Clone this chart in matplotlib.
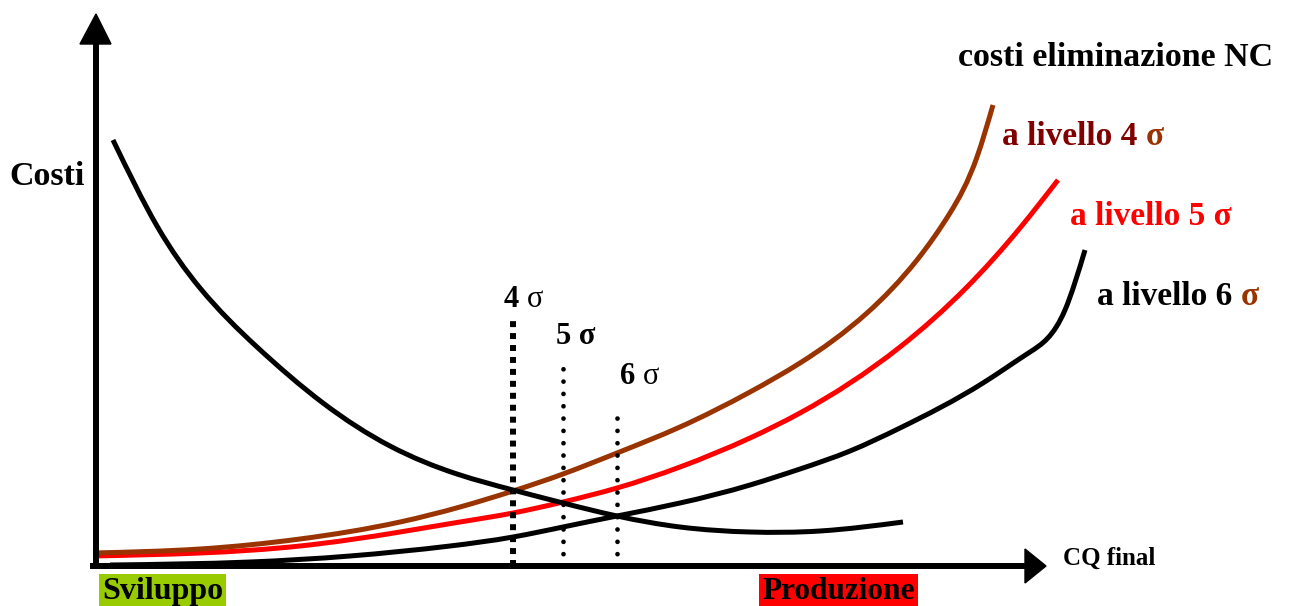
import matplotlib
matplotlib.use("Agg")
import numpy as np
import matplotlib.pyplot as plt
from matplotlib.patches import Polygon, PathPatch
from matplotlib.path import Path

W, H = 1289, 606
# Data, in pixel-like units (x right, row = pixel row from top)
dec_x = [113, 157, 200, 257, 323, 390, 457, 513, 563, 617, 680, 750, 820, 903]
dec_row = [140, 226, 288, 347, 403, 446, 474, 490, 503, 516, 527, 532, 531, 522]

s4_x = [93, 200, 300, 400, 460, 513, 563, 617, 680, 750, 800, 867, 917, 950, 977, 993]
s4_row = [553, 549, 539, 522, 507, 491, 474, 453, 427, 392, 363, 313, 260, 213, 157, 105]

s5_x = [93, 200, 300, 400, 460, 513, 563, 617, 680, 750, 800, 900, 967, 1020, 1058]
s5_row = [556, 553, 546, 532, 522, 513, 502, 488, 467, 438, 413, 347, 287, 228, 180]

s6_x = [110, 250, 350, 450, 513, 563, 617, 680, 750, 800, 850, 900, 983, 1030, 1065, 1085]
s6_row = [565, 562, 556, 546, 537, 527, 516, 503, 485, 469, 451, 428, 383, 352, 310, 250]

sigma_x = [513, 563, 617]
sigma_top_row = [318, 367, 415]

BROWN = "#993300"
RED = "#ff0000"
DARKRED = "#800000"

fig = plt.figure(figsize=(W / 100, H / 100), dpi=100)
ax = fig.add_axes([0, 0, 1, 1])
ax.set_xlim(0, W)
ax.set_ylim(0, H)
ax.axis("off")

def Y(rows):
    return [H - r for r in rows]

SERIF = ["Liberation Serif", "DejaVu Serif"]

def smooth_curve(xs, rows, color, lw):
    """Smooth C2 Bezier path through the read points (natural cubic spline slopes)."""
    xs = np.asarray(xs, float)
    ys = np.asarray(Y(rows), float)
    n = len(xs)
    h = np.diff(xs)
    s = np.diff(ys) / h
    A = np.zeros((n, n))
    b = np.zeros(n)
    A[0, 0], A[0, 1], b[0] = 2, 1, 3 * s[0]
    A[-1, -2], A[-1, -1], b[-1] = 1, 2, 3 * s[-1]
    for i in range(1, n - 1):
        A[i, i - 1] = h[i]
        A[i, i] = 2 * (h[i - 1] + h[i])
        A[i, i + 1] = h[i - 1]
        b[i] = 3 * (h[i] * s[i - 1] + h[i - 1] * s[i])
    m = np.linalg.solve(A, b)
    verts = [(xs[0], ys[0])]
    codes = [Path.MOVETO]
    for i in range(n - 1):
        d = h[i]
        verts += [(xs[i] + d / 3, ys[i] + m[i] * d / 3),
                  (xs[i + 1] - d / 3, ys[i + 1] - m[i + 1] * d / 3),
                  (xs[i + 1], ys[i + 1])]
        codes += [Path.CURVE4] * 3
    ax.add_patch(PathPatch(Path(verts, codes), fill=False, edgecolor=color, lw=lw,
                           capstyle="butt"))

# axes
ax.plot([96, 96], [H - 566, H - 40], color="black", lw=4.3, solid_capstyle="butt")
ax.add_patch(Polygon([[80, H - 44], [111, H - 44], [96, H - 14]], closed=True, color="black"))
ax.plot([90, 1028], [H - 566, H - 566], color="black", lw=4.3, solid_capstyle="butt")
ax.add_patch(Polygon([[1025, H - 549], [1025, H - 583], [1046, H - 566]], closed=True, color="black"))

# curves
smooth_curve(s6_x, s6_row, "black", 3.6)
smooth_curve(s5_x, s5_row, RED, 3.6)
smooth_curve(s4_x, s4_row, BROWN, 3.6)
smooth_curve(dec_x, dec_row, "black", 3.6)

# sigma vertical dotted lines
ax.plot([sigma_x[0]] * 2, [H - 566, H - sigma_top_row[0]], color="black", lw=4.3,
        linestyle=(0, (1, 1)), dash_capstyle="butt")
for xv, tr in zip(sigma_x[1:], sigma_top_row[1:]):
    ax.plot([xv, xv], [H - 566, H - tr], color="black", lw=3.4,
            linestyle=(0, (0.01, 2.6)), dash_capstyle="round")

def mixed(x, y, parts, size):
    prev = None
    for txt, col, wt in parts:
        if prev is None:
            prev = ax.text(x, y, txt, color=col, fontweight=wt, fontsize=size,
                           family=SERIF, ha="left", va="baseline")
        else:
            prev = ax.annotate(txt, xy=(1, 0), xycoords=prev, color=col, fontweight=wt,
                               fontsize=size, family=SERIF, ha="left", va="bottom")

mixed(504, H - 307, [("4 ", "black", "bold"), ("σ", "black", "normal")], 22)
mixed(556, H - 344, [("5 σ", "black", "bold")], 22)
mixed(620, H - 384, [("6 ", "black", "bold"), ("σ", "black", "normal")], 22)

ax.text(9, H - 185, "Costi", fontsize=24.5, fontweight="bold", family=SERIF, ha="left", va="baseline")
ax.text(958, H - 66, "costi eliminazione NC", fontsize=24.5, fontweight="bold", family=SERIF,
        ha="left", va="baseline")
mixed(1002, H - 145, [("a livello 4 ", DARKRED, "bold"), ("σ", BROWN, "bold")], 24)
mixed(1070, H - 225, [("a livello 5 σ", RED, "bold")], 24)
mixed(1097, H - 305, [("a livello 6 ", "black", "bold"), ("σ", BROWN, "bold")], 24)

ax.text(1063, H - 565, "CQ final", fontsize=18, fontweight="bold", family=SERIF,
        ha="left", va="baseline")

ax.text(102, H - 599, "Sviluppo", fontsize=23, fontweight="bold", family=SERIF, ha="left",
        va="baseline", bbox=dict(boxstyle="square,pad=0.1", fc="#99cc00", ec="none"))
ax.text(762, H - 599, "Produzione", fontsize=22.5, fontweight="bold", family=SERIF, ha="left",
        va="baseline", bbox=dict(boxstyle="square,pad=0.1", fc=RED, ec="none"))

fig.savefig("out.png", dpi=100)
